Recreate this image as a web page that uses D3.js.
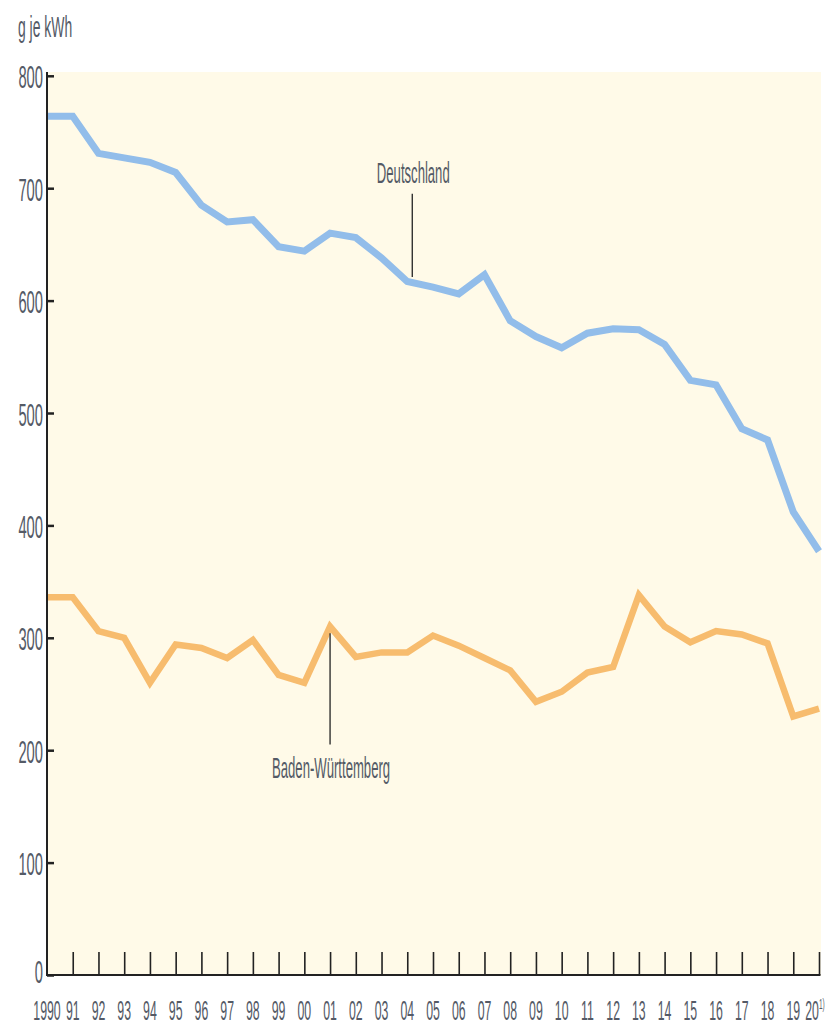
<!DOCTYPE html>
<html><head><meta charset="utf-8">
<script src="https://cdn.jsdelivr.net/npm/d3@7"></script>
<style>
html,body{margin:0;padding:0;background:#fff;}
svg{display:block;}
text{font-family:"Liberation Sans",Arial,sans-serif;fill:#545a66;}
</style></head><body>
<svg id="chart" width="832" height="1028"></svg>
<script>
const years = [1990,1991,1992,1993,1994,1995,1996,1997,1998,1999,2000,2001,2002,2003,2004,2005,2006,2007,2008,2009,2010,2011,2012,2013,2014,2015,2016,2017,2018,2019,2020];
const yearLabels = ["1990","91","92","93","94","95","96","97","98","99","00","01","02","03","04","05","06","07","08","09","10","11","12","13","14","15","16","17","18","19","20"];
const deutschland = [764,764,731,727,723,714,685,670,672,648,644,660,656,638,617,612,606,623,582,568,558,571,575,574,561,529,525,486,476,412,377];
const badenWuerttemberg = [336,336,306,300,260,294,291,282,298,267,260,310,283,287,287,302,293,282,271,243,252,269,274,338,310,296,306,303,295,230,237];
const yTicks = [0,100,200,300,400,500,600,700,800];
const unitLabel = "g je kWh";
const seriesNames = ["Deutschland","Baden-Württemberg"];
const footnoteMark = "1)";

const svg = d3.select("#chart");
const x = d3.scaleLinear().domain([1990, 2020]).range([47, 819]);
const y = d3.scaleLinear().domain([0, 800]).range([975, 75.8]);

// panel background
svg.append("rect")
  .attr("x", x(1990)).attr("y", 72)
  .attr("width", 821 - x(1990)).attr("height", y(0) + 1 - 72)
  .attr("fill", "#fffae8");

// lines
const line = d3.line().x((d, i) => x(years[i])).y(d => y(d));
svg.append("path").datum(deutschland)
  .attr("d", line).attr("fill", "none")
  .attr("stroke", "#92bdea").attr("stroke-width", 7)
  .attr("stroke-linejoin", "miter");
svg.append("path").datum(badenWuerttemberg)
  .attr("d", line).attr("fill", "none")
  .attr("stroke", "#f7bc6e").attr("stroke-width", 6.5)
  .attr("stroke-linejoin", "miter");

// y axis
const yAxis = svg.append("g").attr("transform", `translate(${x(1990)},0)`)
  .call(d3.axisLeft(y).tickValues(yTicks).tickSize(-7).tickSizeOuter(0).tickPadding(4));
yAxis.select(".domain").attr("stroke", "#222").attr("stroke-width", 2)
  .attr("d", `M0,72V${y(0)+1}`);
yAxis.selectAll(".tick line").attr("stroke", "#222").attr("stroke-width", 2.5);
yAxis.selectAll(".tick text")
  .attr("x", null).attr("dy", null)
  .attr("fill", "#585e6a")
  .attr("font-size", 18)
  .attr("transform", d => `translate(-4,${d === 0 ? 7 : 12}) scale(0.82,1.75)`)
  .style("font-family", '"Liberation Sans",Arial,sans-serif');

// x axis
const xAxis = svg.append("g").attr("transform", `translate(0,${y(0)})`)
  .call(d3.axisBottom(x).tickValues(years.slice(1)).tickSize(-23).tickSizeOuter(0).tickFormat(""));
xAxis.select(".domain").attr("stroke", "#222").attr("stroke-width", 2)
  .attr("d", `M${x(1990)-1},0H${x(2020)+1.5}`);
xAxis.selectAll(".tick line").attr("stroke", "#222").attr("stroke-width", 1.6);

// x labels
const xl = svg.append("g");
years.forEach((yr, i) => {
  const last = i === years.length - 1;
  const t = xl.append("text")
    .attr("text-anchor", "middle")
    .attr("font-size", 15)
    .attr("fill", "#585e6a")
    .attr("transform", `translate(${x(yr) - (last ? 4 : 0)},1020) scale(0.82,1.9)`)
    .text(yearLabels[i]);
  if (last) {
    t.append("tspan").attr("font-size", 8).attr("dy", -6).text(footnoteMark);
  }
});

// unit label
svg.append("text")
  .attr("font-size", 17)
  .attr("fill", "#585e6a")
  .attr("transform", `translate(18,37) scale(0.82,1.75)`)
  .text(unitLabel);

// annotations
const annotations = [
  {name: seriesNames[0], year: 2004, dx: 5, textVal: 705, from: 695, to: 621},
  {name: seriesNames[1], year: 2001, dx: 0, textVal: 175, from: 304, to: 205}
];
annotations.forEach(a => {
  svg.append("line")
    .attr("x1", x(a.year) + a.dx).attr("x2", x(a.year) + a.dx)
    .attr("y1", y(a.from)).attr("y2", y(a.to))
    .attr("stroke", "#222").attr("stroke-width", 1.3);
  svg.append("text")
    .attr("text-anchor", "middle")
    .attr("font-size", 16)
    .attr("fill", "#4a4f59")
    .attr("transform", `translate(${x(a.year) + a.dx + 1},${y(a.textVal)}) scale(0.82,1.85)`)
    .text(a.name);
});
</script>
</body></html>
